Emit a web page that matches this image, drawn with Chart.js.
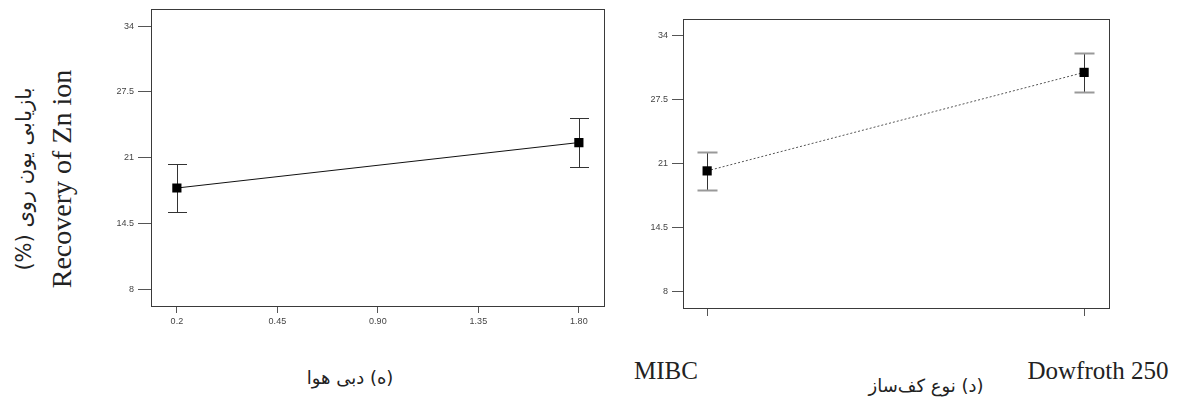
<!DOCTYPE html>
<html>
<head>
<meta charset="utf-8">
<script src="https://cdn.jsdelivr.net/npm/chart.js@4"></script>
<style>
  body { margin: 0; background: #fff; width: 1202px; height: 401px; position: relative; overflow: hidden; }
  .box { position: absolute; }
  .lbl { position: absolute; white-space: nowrap; color: #222; }
  .serif { font-family: "Liberation Serif", "DejaVu Serif", serif; }
  .fa { font-family: "DejaVu Sans", sans-serif; direction: rtl; }
</style>
</head>
<body>
<div class="box" style="left:90px;top:0;width:530px;height:340px"><canvas id="airChart"></canvas></div>
<div class="box" style="left:600px;top:0;width:530px;height:340px"><canvas id="frotherChart"></canvas></div>

<div class="lbl" id="yTitle" style="left:43px;top:179px;transform:translate(-50%,-50%) rotate(-90deg);text-align:center;line-height:37px">
  <div class="fa" style="font-size:21px">بازیابی یون روی (%)</div>
  <div class="serif" style="font-size:28px">Recovery of Zn ion</div>
</div>
<div class="lbl fa" style="left:350px;top:377px;transform:translate(-50%,-50%);font-size:18px">(ه) دبی هوا</div>
<div class="lbl fa" style="left:926px;top:385px;transform:translate(-50%,-50%);font-size:18px">(د) نوع کف‌ساز</div>
<div class="lbl serif" id="cat0" style="left:666px;top:371px;transform:translate(-50%,-50%);font-size:25px"></div>
<div class="lbl serif" id="cat1" style="left:1098px;top:371px;transform:translate(-50%,-50%);font-size:25px"></div>

<script>
// y axis (shared)
const yTicks = [8, 14.5, 21, 27.5, 34];

// (ه) air flow
const airX = [0.2, 1.8];
const airTickValues = [0.2, 0.6, 1.0, 1.4, 1.8];
const airTickLabels = ["0.2", "0.45", "0.90", "1.35", "1.80"];
const airMean = [18.0, 22.5];
const airLow = [15.65, 20.1];
const airHigh = [20.4, 24.9];

// (د) frother type
const frotherCats = ["MIBC", "Dowfroth 250"];
const frotherMean = [20.25, 30.25];
const frotherLow = [18.3, 28.3];
const frotherHigh = [22.2, 32.2];

document.getElementById("cat0").textContent = frotherCats[0];
document.getElementById("cat1").textContent = frotherCats[1];

const tickFont = { family: "Arial, 'Liberation Sans', sans-serif", size: 9 };

// frame around plot area
const frame = {
  id: "frame",
  afterDraw(chart) {
    const a = chart.chartArea;
    const c = chart.ctx;
    c.save();
    c.strokeStyle = "#3a3a3a";
    c.lineWidth = 1;
    c.strokeRect(Math.round(a.left) + 0.5, Math.round(a.top) + 0.5, Math.round(a.right - a.left), Math.round(a.bottom - a.top));
    c.restore();
  }
};

// error bars, drawn under the markers
const errorBars = {
  id: "errorBars",
  beforeDatasetsDraw(chart, args, opts) {
    const c = chart.ctx;
    const xs = chart.scales.x, ys = chart.scales.y;
    const pts = chart.data.datasets[0].data;
    c.save();
    pts.forEach((p, i) => {
      const px = Math.round(xs.getPixelForValue(p.x)) + 0.5;
      const top = Math.round(ys.getPixelForValue(opts.high[i])) + 0.5;
      const bot = Math.round(ys.getPixelForValue(opts.low[i])) + 0.5;
      c.strokeStyle = "#333";
      c.lineWidth = 1;
      c.beginPath();
      c.moveTo(px, top); c.lineTo(px, bot);
      c.stroke();
      c.strokeStyle = opts.capColor;
      c.lineWidth = opts.capWidth;
      c.beginPath();
      c.moveTo(px - opts.half, top); c.lineTo(px + opts.half, top);
      c.moveTo(px - opts.half, bot); c.lineTo(px + opts.half, bot);
      c.stroke();
    });
    c.restore();
  }
};

function yAxis(width, tickLen) {
  return {
    min: 6.33, max: 35.67,
    afterFit(s) { s.width = width; },
    afterBuildTicks(s) { s.ticks = yTicks.map(v => ({ value: v })); },
    border: { display: false },
    grid: { drawOnChartArea: false, tickLength: tickLen, color: "#555", tickColor: "#555" },
    ticks: { font: tickFont, color: "#444", padding: 4, callback: v => String(v) }
  };
}

function makeChart(id, points, line, xScale, yScale, padding, bars) {
  return new Chart(document.getElementById(id), {
    type: "scatter",
    data: {
      datasets: [{
        data: points,
        showLine: true,
        borderColor: line.color,
        borderWidth: 1,
        borderDash: line.dash,
        pointStyle: "rect",
        pointRadius: 6.5,
        pointHoverRadius: 6.5,
        pointBackgroundColor: "#000",
        pointBorderColor: "#000",
        pointBorderWidth: 0
      }]
    },
    options: {
      responsive: true,
      maintainAspectRatio: false,
      animation: false,
      layout: { padding: padding },
      plugins: { legend: { display: false }, tooltip: { enabled: false }, errorBars: bars },
      scales: { x: xScale, y: yScale }
    },
    plugins: [frame, errorBars]
  });
}

const airChart = makeChart("airChart",
  airX.map((x, i) => ({ x: x, y: airMean[i] })),
  { color: "#111", dash: [] },
  {
    type: "linear", min: 0.097, max: 1.90,
    afterFit(s) { s.height = 34; },
    afterBuildTicks(s) { s.ticks = airTickValues.map(v => ({ value: v })); },
    border: { display: false },
    grid: { drawOnChartArea: false, tickLength: 7, color: "#555", tickColor: "#555" },
    ticks: { font: tickFont, color: "#444", padding: 3, callback: (v, i) => airTickLabels[i] }
  },
  yAxis(61, 13),
  { top: 7, right: 16, left: 0, bottom: 0 },
  { low: airLow, high: airHigh, half: 9.5, capColor: "#333", capWidth: 1 }
);

const frotherChart = makeChart("frotherChart",
  frotherCats.map((c, i) => ({ x: i, y: frotherMean[i] })),
  { color: "#555", dash: [2, 2] },
  {
    type: "linear", min: -0.064, max: 1.066,
    afterFit(s) { s.height = 32; },
    afterBuildTicks(s) { s.ticks = frotherCats.map((c, i) => ({ value: i })); },
    border: { display: false },
    grid: { drawOnChartArea: false, tickLength: 8, color: "#555", tickColor: "#555" },
    ticks: { font: tickFont, color: "#444", padding: 2, callback: () => "" }
  },
  yAxis(83, 11),
  { top: 19, right: 21, left: 0, bottom: 0 },
  { low: frotherLow, high: frotherHigh, half: 10, capColor: "#999", capWidth: 2 }
);
</script>
</body>
</html>
